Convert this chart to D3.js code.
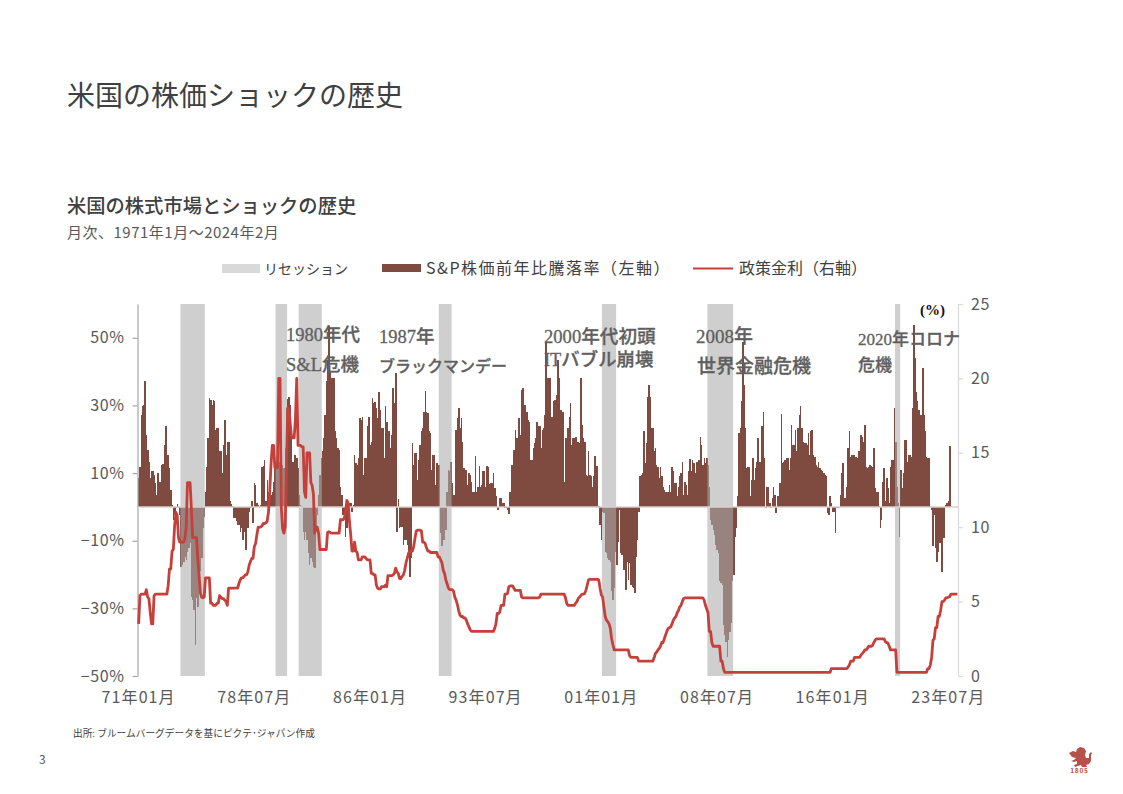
<!DOCTYPE html>
<html>
<head>
<meta charset="utf-8">
<script src="https://cdn.jsdelivr.net/npm/d3@7"></script>
<style>
  html, body { margin: 0; padding: 0; background: #fff; }
  text { font-family: "Noto Sans CJK JP", "Noto Sans", sans-serif; }
  .note { font-family: "Liberation Serif", "Noto Sans CJK JP", serif; font-weight: 500; fill: #5f5f5f; stroke: #5f5f5f; stroke-width: 0.3; }
</style>
</head>
<body>
<script>
// S&P前年比(%) 1971年1月から月次
const spYoY = [
  8.5,11.9,27.2,29.7,30,37.3,21.3,16.9,13.4,8.5,
  10.7,10.5,9.5,7,3.6,10,7.5,7.5,12.4,12.6,
  18.3,24,15.4,15.4,11.6,4.9,.6,-3.8,-2.4,-.4,
  1,-.4,-2.4,-17.7,-17.2,-16.2,-14.7,-15.7,-13.2,-12.2,
  -10.7,-26.5,-27.5,-30.5,-40.8,-27,-29.5,-24,-19,-15.2,
  -6.3,-2.9,4.5,11.9,20.3,32.1,31.7,30.2,31.7,31.4,
  22.8,23.3,23.3,16.4,16.4,10,18.3,25.7,15.4,19.3,
  19.3,1.6,.8,.4,-3.4,-3.4,-4.3,-5.3,-5.3,-7.3,
  -6.3,-9.8,-7.3,-12.7,-12.7,-6.3,-1.4,-.4,1.6,-4.8,
  7,6.5,1.1,.6,-.2,.6,11.9,12.2,13.9,1.6,
  8,4.5,.6,3.6,4.5,7.5,12.4,12.4,13.4,13.4,
  13.4,12.4,12.4,11.4,17.4,29.2,32,32.6,30.2,20.3,
  13.4,15.4,15.4,14.4,11.4,3.6,.6,.4,-7.3,-9.8,
  -7.3,-9.8,-13.7,-17.2,-15.2,-16.2,-17.7,-18.1,-6.3,-2.4,
  3.6,9.5,14.4,16.4,20.3,27.2,37.1,43,53.4,40,
  38.1,38.1,38.1,22.3,20.3,17.4,16.9,6,3.6,-2.4,
  -2.4,-8.8,-6.3,-.4,1.1,1.1,-1.4,.6,15.4,12.9,
  12.4,14.4,26.2,25.7,26.7,9.5,14.4,14.4,23.8,26.7,
  18.3,19.3,32.1,30.7,31,29.2,26.2,34.1,28.7,23.3,
  23.3,14.4,29.7,25.2,22.3,22.3,17.4,21.3,35.1,30.7,
  39.5,-7.3,2.4,-6.3,-5.8,-5.8,-11.2,-9.8,-9.8,-11.2,
  -13.2,-20.6,-15.2,18.8,12.4,15.9,15.9,8,13.9,18.3,
  22.3,23.3,28.2,34.3,28.2,27.7,22.3,21.8,10.9,15.4,
  15.4,6.5,12.9,12.4,12.4,-7.8,-11.7,-9.8,-9.8,-6.8,
  4.5,10.9,10.5,13.4,7,3.6,3.6,22.8,26.2,29.2,
  23.3,26.2,19.3,11.4,10.9,10.9,6.5,10,9.5,7.5,
  4.5,4.5,15.2,4.5,6,12.2,6,6.5,10.5,10.5,
  6,12.1,11.9,6.7,7,7,10,5.5,3.1,-.9,
  -.9,2.6,2.6,1.1,1.1,-.4,-.4,-.9,-2.2,4.5,
  12.4,12.4,16.9,22.8,20.3,20.3,26.2,21.3,34.6,35.1,
  30.2,30.2,28.2,25.7,25.2,13.9,13.9,17.4,18.8,20.3,
  25.2,23.8,23.8,17.4,22.8,23.3,27.2,48.4,38.1,38.1,
  38.1,26.7,26.7,31.2,31.7,33.1,43.5,38.1,28.7,28.7,
  28.2,7.5,20.3,20.3,23.3,26.7,30.7,18.3,20.3,20.3,
  20.8,19.3,19.3,18.8,38.1,24.3,20.3,19.3,9.5,9,
  16.4,9.5,9,6,9,15.2,12.2,12.2,.2,-5.3,
  -9.8,-1.4,-1.9,-13.2,-13.7,-15.2,-15.7,-16.2,-25,-27.5,
  -24,-13.2,-17.2,-10.3,-.9,-13.7,-14.2,-18.6,-18.6,-24.6,
  -16.2,-21.6,-16.7,-23.1,-23.6,-24,-25.5,-14.7,-9.8,-1.4,
  9,9.5,10,22.5,12.9,18.8,32.6,36.1,32.6,23.3,
  23.3,16.4,17.4,12.4,11.9,8.5,11.9,9,6,5,
  4.5,4.5,4.5,6.5,4.5,11.9,10.5,7,7,3.1,
  6,9,10,13.4,3.6,7.5,6.5,3.6,10.5,14.2,
  10.5,13.9,12.9,10,13.4,13.4,13.9,20.8,18.3,12.4,
  14.4,12.9,14.4,12.4,6,-3.8,-5.3,-6.8,-8.3,-11.2,
  -12.7,-13.7,-22,-22.6,-23.1,-34.9,-37.9,-39.8,-44.3,-39.3,
  -36.9,-34.4,-22,-20,-8.8,-6.3,3.1,21.8,23.3,31.2,
  48.9,36.1,23.3,11.4,11.9,11.9,3.1,8,14.4,8,
  11.4,13.4,20.3,13.4,13.4,23.8,28.2,14.4,-.4,6,
  6,1.1,-.4,2.6,6,3.6,-1.9,3.1,3.1,7,
  27.4,12.9,13.4,13.9,14.4,14.4,10.9,14.4,24.3,18.3,
  18.3,22.8,16.4,23.3,27.2,29.7,23.3,19.3,18.8,18.8,
  18.3,21.8,15.4,22.3,22.8,15.4,14.9,12.4,11.9,13.4,
  11.4,10.9,10.5,10,9.5,9,-1.9,-2.4,3.3,1.1,
  -1.4,-1.4,-7.8,-.4,-.4,.1,3.6,10,12.9,2.6,
  2.6,6,17.4,22.3,14.9,15.4,15.4,15.4,14.9,14.4,
  16.4,16.4,21.3,20.8,19.3,24.1,11.9,11.4,11.9,12.4,
  12.2,11.9,17.4,5.5,4.5,4.5,.2,-6.3,-3.8,7.5,
  11.4,1.6,8.5,5.5,1.1,11.9,13.9,13.9,29.2,19.3,
  6,1.1,-8.8,10.9,5.5,10,19.8,19.8,13.4,15.4,
  15.4,14.9,29.2,53.8,44,34.1,31.2,28.7,27.2,27.2,
  41,27.2,22.3,14.9,14.4,14.4,.1,-.9,-11.7,-2.4,
  -12.2,-16.2,-13.2,-10.7,-10.7,-19.1,-9.3,-9.3,.6,1.1,
  1.6,17.9
]

// 政策金利(%)
const policyRate = [
  3.5,5.4,5.5,5.5,5.5,5.5,5.8,5.3,5.2,4.3,
  3.5,3.5,5.4,5.5,5.5,5.5,5.5,5.5,5.5,5.5,
  5.5,5.5,5.5,6.1,7.2,7.2,8.4,8.5,10.1,11,
  10.8,9.3,9,9,9,9,9.25,10,13,13,
  13,11.3,9.3,9.3,9.3,9.3,7.9,6.8,5.6,5.3,
  5.25,5.3,6.6,6.6,6.6,6.6,4.9,4.9,4.75,4.75,
  4.75,4.9,4.9,5.4,5.3,5.2,5.2,5.1,5,4.75,
  5.9,5.9,5.9,5.9,5.9,5.9,5.9,5.9,6.2,6.45,
  6.6,6.6,6.7,6.8,6.8,7,7.45,7.7,7.9,7.9,
  8.7,8.9,9.5,10,10,10,10.1,10.25,10.25,10.3,
  10.4,11,12.4,14.2,15.5,15.5,14,14,14,20,
  20,11.3,9.9,9.6,10,14,18,18,16.9,16,
  16,16,17.3,20,15.5,15.5,15.5,15.4,15.4,12.4,
  12,15,15,15,13,12.8,12.2,9.6,10,10,
  9.6,8.5,8.5,8.5,8.5,8.5,8.5,9.65,9.7,9.65,
  9.6,9.6,9.6,9.6,9.6,9.6,9.6,10.5,10.5,10.5,
  10.6,11,11.8,11.6,10.4,9.5,8.4,8.4,9,8.4,
  8.3,7.8,7.8,7.8,8,8,8,7.9,7.8,7.8,
  7.8,6.9,6.9,6.8,6.8,6.1,5.9,5.85,5.85,6,
  6,6,6.1,6,6.75,6.75,6.75,6.75,6.8,6.9,
  7.25,7,6.9,6.55,6.55,6.7,6.8,7.1,7.6,7.9,
  8.25,8.4,8.4,8.4,8.7,9.25,9.75,9.8,9.8,9.8,
  9.75,9,9,8.9,8.6,8.4,8.4,8.3,8.3,8.3,
  8.3,8.3,8.3,8,8,7.8,7.6,7.1,6.9,6.45,
  6.2,5.9,5.8,5.8,5.8,5.7,5.3,5.1,4.8,4.4,
  4.1,4,4,3.9,3.9,3.75,3.5,3.3,3.1,3,
  3,3,3,3,3,3,3,3,3,3,
  3,3,3,3,3,3,3,3.2,3.5,4.2,
  4.2,4.3,4.75,4.75,4.75,5.5,5.5,5.55,6,6.05,
  6.05,6.05,5.9,5.75,5.75,5.75,5.75,5.75,5.3,5.25,
  5.25,5.25,5.25,5.25,5.25,5.25,5.25,5.25,5.25,5.25,
  5.25,5.25,5.3,5.5,5.5,5.5,5.5,5.5,5.5,5.5,
  5.5,5.5,5.5,5.5,5.5,5.5,5.5,5.5,5.5,5.5,
  5.5,5.5,5.3,4.9,4.75,4.75,4.75,4.75,4.75,4.75,
  4.9,5,5.2,5.3,5.4,5.5,5.5,5.55,5.75,6.1,
  6.45,6.5,6.5,6.5,6.5,6.5,6.5,6.5,6.45,5.9,
  5.45,5.3,4.65,4,3.75,3.65,3.5,3.2,2.5,2.1,
  1.75,1.75,1.75,1.75,1.75,1.75,1.75,1.75,1.75,1.75,
  1.75,1.75,1.35,1.25,1.25,1.25,1.25,1.25,1.25,1,
  1,1,1,1,1,1,1,1,1,1,
  1,1.2,1.5,1.6,1.75,1.85,2,2.25,2.25,2.5,
  2.75,3,3.2,3.25,3.3,3.5,3.75,3.9,4,4.25,
  4.4,4.65,4.75,5,5.2,5.25,5.25,5.25,5.25,5.25,
  5.25,5.25,5.25,5.25,5.25,5.25,5.25,5.25,5.25,5.25,
  5.1,4.75,4.5,4.25,3,3,2.25,2,2,2,
  2,2,2,1,1,.5,.25,.25,.25,.25,
  .25,.25,.25,.25,.25,.25,.25,.25,.25,.25,
  .25,.25,.25,.25,.25,.25,.25,.25,.25,.25,
  .25,.25,.25,.25,.25,.25,.25,.25,.25,.25,
  .25,.25,.25,.25,.25,.25,.25,.25,.25,.25,
  .25,.25,.25,.25,.25,.25,.25,.25,.25,.25,
  .25,.25,.25,.25,.25,.25,.25,.25,.25,.25,
  .25,.25,.25,.25,.25,.25,.25,.25,.25,.25,
  .25,.25,.25,.25,.25,.25,.25,.25,.25,.5,
  .5,.5,.5,.5,.5,.5,.5,.5,.5,.5,
  .5,.5,.6,.75,1,1,1,1.25,1.25,1.25,
  1.25,1.25,1.4,1.5,1.6,1.75,1.75,1.85,2,2,
  2,2.05,2.25,2.4,2.5,2.5,2.5,2.5,2.5,2.5,
  2.5,2.3,2.25,2.2,2,1.75,1.75,1.75,1.75,1.75,
  .25,.25,.25,.25,.25,.25,.25,.25,.25,.25,
  .25,.25,.25,.25,.25,.25,.25,.25,.25,.25,
  .25,.25,.25,.25,.5,.5,.75,1.25,2.4,2.5,
  3.25,3.25,4,4,4.4,5,5,5.1,5.25,5.25,
  5.3,5.33,5.5,5.5,5.5,5.5,5.5,5.5
]

// 景気後退の開始月・終了月
const recessionStart = ['1973-10','1979-12','1981-06','1990-07','2001-02','2007-12','2020-02']
const recessionEnd = ['1975-04','1980-08','1982-11','1991-04','2001-12','2009-07','2020-05']

const xTickMonths = ['1971-01','1978-07','1986-01','1993-07','2001-01','2008-07','2016-01','2023-07']
const xTickLabels = ['71年01月','78年07月','86年01月','93年07月','01年01月','08年07月','16年01月','23年07月']
const leftTicks = [50, 30, 10, -10, -30, -50]
const rightTicks = [0, 5, 10, 15, 20, 25]

const noteLines = ['1980年代','S&L危機','1987年','ブラックマンデー','2000年代初頭','ITバブル崩壊','2008年','世界金融危機','2020年コロナ','危機']

const fmt = d3.timeFormat('%Y-%m')
const months = d3.timeMonth.range(new Date(1971, 0, 1), new Date(2024, 2, 1)).map(fmt)

const box = { width: 1123, height: 794, left: 138, right: 958, top: 304, bottom: 676 }

const svg = d3.select('body')
  .append('svg')
  .attr('width', box.width)
  .attr('height', box.height)
  .style('display', 'block')

const x = d3.scaleBand().domain(months).range([box.left, box.right]).padding(0)
const yL = d3.scaleLinear().domain([-50, 60]).range([box.bottom, box.top])
const yR = d3.scaleLinear().domain([0, 25]).range([box.bottom, box.top])

// 見出し
svg.append('text').attr('x', 67).attr('y', 106).attr('font-size', 28).attr('fill', '#404040')
  .text('米国の株価ショックの歴史')
svg.append('text').attr('x', 67).attr('y', 213).attr('font-size', 19.3).attr('font-weight', 500).attr('fill', '#404040')
  .text('米国の株式市場とショックの歴史')
svg.append('text').attr('x', 67).attr('y', 238).attr('font-size', 15).attr('letter-spacing', 0.5).attr('fill', '#595959')
  .text('月次、1971年1月～2024年2月')

// 凡例
svg.append('rect').attr('x', 222).attr('y', 264).attr('width', 38).attr('height', 9).attr('fill', '#d9d9d9')
svg.append('text').attr('x', 264).attr('y', 274).attr('font-size', 14).attr('fill', '#404040').text('リセッション')
svg.append('rect').attr('x', 382).attr('y', 264).attr('width', 39).attr('height', 8).attr('fill', '#7f4a3f')
svg.append('text').attr('x', 426).attr('y', 274).attr('font-size', 16).attr('fill', '#404040').attr('letter-spacing', 1.5)
  .text('S&P株価前年比騰落率（左軸）')
svg.append('line').attr('x1', 693).attr('x2', 733).attr('y1', 268.5).attr('y2', 268.5)
  .attr('stroke', '#c5403a').attr('stroke-width', 2)
svg.append('text').attr('x', 739).attr('y', 274).attr('font-size', 16).attr('fill', '#404040')
  .text('政策金利（右軸）')

// 棒
svg.append('g')
  .attr('shape-rendering', 'crispEdges')
  .selectAll('rect')
  .data(spYoY)
  .join('rect')
  .attr('x', (d, i) => x(months[i]))
  .attr('width', x.bandwidth() + 0.25)
  .attr('y', d => yL(Math.max(d, 0)))
  .attr('height', d => Math.abs(yL(d) - yL(0)))
  .attr('fill', '#7f4a3f')

// 景気後退
svg.append('g')
  .selectAll('rect')
  .data(recessionStart)
  .join('rect')
  .attr('x', d => x(d))
  .attr('width', (d, i) => x(recessionEnd[i]) + x.bandwidth() - x(d))
  .attr('y', box.top)
  .attr('height', box.bottom - box.top)
  .attr('fill', '#adadad')
  .attr('fill-opacity', 0.58)

// 軸
const axisL = d3.axisLeft(yL).tickValues(leftTicks).tickSize(5).tickSizeOuter(0).tickPadding(8)
  .tickFormat(d => (d < 0 ? '−' + (-d) : d) + '%')
const gL = svg.append('g').attr('transform', `translate(${box.left - 0.5},0)`).call(axisL)
gL.selectAll('path,line').attr('stroke', '#a6a6a6').attr('stroke-width', 1.2)
gL.selectAll('text').attr('font-size', 16).attr('fill', '#595959').attr('letter-spacing', 0.6)

const axisR = d3.axisRight(yR).tickValues(rightTicks).tickSize(5).tickSizeOuter(0).tickPadding(8)
const gR = svg.append('g').attr('transform', `translate(${box.right},0)`).call(axisR)
gR.selectAll('path,line').attr('stroke', '#d9d9d9').attr('stroke-width', 1.2)
gR.selectAll('text').attr('font-size', 16).attr('fill', '#595959').attr('letter-spacing', 0.6)

// ゼロ線
svg.append('line')
  .attr('x1', box.left).attr('x2', box.right)
  .attr('y1', yL(0)).attr('y2', yL(0))
  .attr('stroke', '#d9d0ce').attr('stroke-width', 1.5)

const xLabel = d3.scaleOrdinal().domain(xTickMonths).range(xTickLabels)
const axisX = d3.axisBottom(x).tickValues(xTickMonths).tickSize(0).tickPadding(16).tickFormat(xLabel)
const gX = svg.append('g').attr('transform', `translate(0,${box.bottom})`).call(axisX)
gX.select('.domain').remove()
gX.selectAll('text').attr('font-size', 16).attr('fill', '#595959').attr('letter-spacing', 1.1)

// 政策金利
const line = d3.line()
  .x((d, i) => x(months[i]) + x.bandwidth() / 2)
  .y(d => yR(d))
svg.append('path')
  .datum(policyRate)
  .attr('d', line)
  .attr('fill', 'none')
  .attr('stroke', '#c5403a')
  .attr('stroke-width', 2.8)
  .attr('stroke-linejoin', 'round')

// 注記
const notePos = [[286,341,18.5],[286,371,18.5],[379,343,18.5],[379,372,16],[544,343,18.6],[544,366,18.4],[696,343,19],[697,373,19],[858,345,17],[858,371,17]]
svg.append('g')
  .selectAll('text')
  .data(noteLines)
  .join('text')
  .attr('class', 'note')
  .attr('x', (d, i) => notePos[i][0])
  .attr('y', (d, i) => notePos[i][1])
  .attr('font-size', (d, i) => notePos[i][2])
  .text(d => d)

svg.append('text').attr('x', 920).attr('y', 315).attr('font-size', 15).attr('font-weight', 'bold')
  .style('font-family', '"Liberation Serif", serif').attr('fill', '#111').text('(%)')

// 脚注
svg.append('text').attr('x', 73).attr('y', 737).attr('font-size', 9.7).attr('fill', '#404040')
  .text('出所: ブルームバーグデータを基にピクテ･ジャパン作成')
svg.append('text').attr('x', 39).attr('y', 764).attr('font-size', 12).attr('fill', '#595959').text('3')

// ロゴ
svg.append('path')
  .attr('d', 'M1069 753l4-2 3 1 1-3 3-2 4 1 2 3-1 4 1 3 3 0 0-4 2-2 1 1-1 2 0 6-2 3-3 1 1 2-5 0-1-2-3 1-3 1-1-2 3-1 0-3-3 1-3-1 3-1 2-2-4-1z')
  .attr('fill', '#b5504a')
svg.append('text').attr('x', 1079.5).attr('y', 773).attr('text-anchor', 'middle').attr('font-size', 6.5)
  .attr('font-weight', 'bold').attr('letter-spacing', 0.8).attr('fill', '#b5504a').text('1805')
</script>
</body>
</html>
